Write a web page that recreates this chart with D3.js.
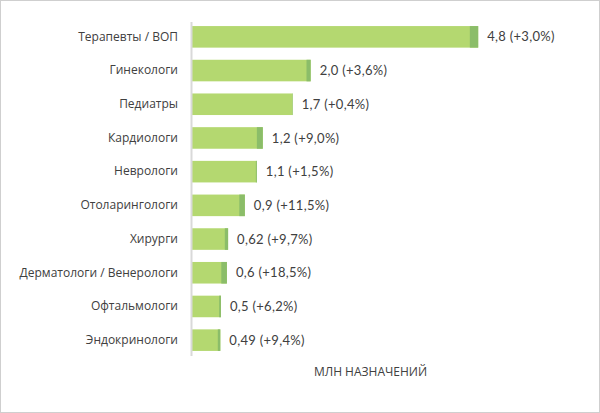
<!DOCTYPE html>
<html>
<head>
<meta charset="utf-8">
<script src="https://cdn.jsdelivr.net/npm/d3@7"></script>
<style>
  html, body { margin: 0; padding: 0; background: #fff; }
  #chart { width: 600px; height: 413px; }
</style>
</head>
<body>
<div id="chart"></div>
<script>
var categories = ['Терапевты / ВОП', 'Гинекологи', 'Педиатры', 'Кардиологи', 'Неврологи',
    'Отоларингологи', 'Хирурги', 'Дерматологи / Венерологи', 'Офтальмологи', 'Эндокринологи']
var values = [4.8, 2.0, 1.7, 1.2, 1.1, 0.9, 0.62, 0.6, 0.5, 0.49]
var growth = [3.0, 3.6, 0.4, 9.0, 1.5, 11.5, 9.7, 18.5, 6.2, 9.4]
var valueLabels = ['4,8', '2,0', '1,7', '1,2', '1,1', '0,9', '0,62', '0,6', '0,5', '0,49']
var growthLabels = ['+3,0%', '+3,6%', '+0,4%', '+9,0%', '+1,5%', '+11,5%', '+9,7%', '+18,5%', '+6,2%', '+9,4%']
var axisTitle = 'МЛН НАЗНАЧЕНИЙ'

var width = 600, height = 413,
    margins = {top: 20, right: 50, bottom: 56, left: 191}

var defaults = {
    colors: {
        bar: '#b4d870',
        growth: '#8bbd69',
        axis: '#d9d9d9',
        text: '#404040',
        border: '#cfcfcf'
    }
}

var rows = categories.map(function(c, i) {
    return {name: c, value: values[i], growth: growth[i], label: valueLabels[i] + ' (' + growthLabels[i] + ')'}
})

var x = d3.scaleLinear()
    .domain([0, 6])
    .range([margins.left, width - margins.right])

var y = d3.scaleBand()
    .domain(categories)
    .range([margins.top, height - margins.bottom])
    .paddingInner(0.36)
    .paddingOuter(0.18)

var svg = d3.select('#chart').append('svg')
    .attr('width', width)
    .attr('height', height)

svg.append('rect')
    .attr('x', 0.5).attr('y', 0.5)
    .attr('width', width - 1).attr('height', height - 1)
    .attr('fill', '#fff')
    .attr('stroke', defaults.colors.border)

// bars: base part + growth part at the end
var bars = svg.append('g').selectAll('g')
    .data(rows)
    .join('g')

bars.append('rect')
    .attr('x', x(0))
    .attr('y', function(d) { return y(d.name) })
    .attr('width', function(d) { return x(d.value) - x(0) })
    .attr('height', y.bandwidth())
    .attr('fill', defaults.colors.bar)

bars.append('rect')
    .attr('x', function(d) { return x(d.value / (1 + d.growth / 100)) })
    .attr('y', function(d) { return y(d.name) })
    .attr('width', function(d) { return x(d.value) - x(d.value / (1 + d.growth / 100)) })
    .attr('height', y.bandwidth())
    .attr('fill', defaults.colors.growth)

bars.append('text')
    .attr('x', function(d) { return x(d.value) + 9 })
    .attr('y', function(d) { return y(d.name) + y.bandwidth() / 2 })
    .attr('dy', '0.35em')
    .attr('font-family', 'Lato, "Noto Sans", sans-serif')
    .attr('font-size', 13)
    .attr('letter-spacing', 0.3)
    .attr('fill', defaults.colors.text)
    .text(function(d) { return d.label })

// category axis
var yAxis = svg.append('g')
    .attr('transform', 'translate(' + x(0) + ',0)')
    .call(d3.axisLeft(y).tickSize(0).tickPadding(13))

yAxis.select('.domain')
    .attr('d', 'M0.5,' + (margins.top + 2) + 'V' + (height - margins.bottom - 1))
    .attr('stroke', defaults.colors.axis)
    .attr('stroke-width', 2)

yAxis.selectAll('text')
    .attr('font-family', '"Open Sans", "Noto Sans", sans-serif')
    .attr('font-size', 12)
    .attr('fill', defaults.colors.text)

svg.append('text')
    .attr('x', (x.range()[0] + x.range()[1]) / 2)
    .attr('y', height - 41)
    .attr('text-anchor', 'middle')
    .attr('dy', '0.35em')
    .attr('font-family', '"Open Sans", "Noto Sans", sans-serif')
    .attr('font-size', 12)
    .attr('fill', defaults.colors.text)
    .text(axisTitle)
</script>
</body>
</html>
